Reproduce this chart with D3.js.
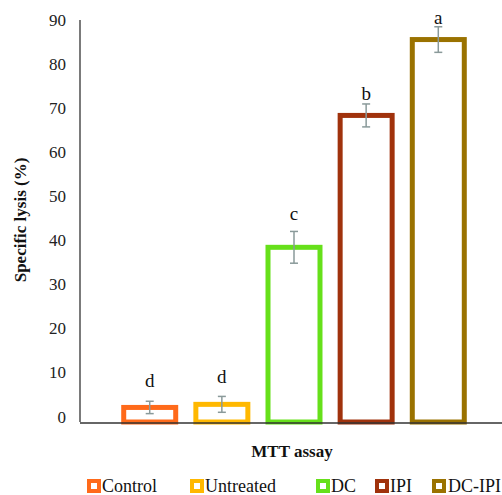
<!DOCTYPE html>
<html><head><meta charset="utf-8">
<script src="https://cdn.jsdelivr.net/npm/d3@7"></script>
<style>body{margin:0;background:#fff}</style>
</head><body>
<svg id="c" width="502" height="495"></svg>
<script>
const categories = ["Control", "Untreated", "DC", "IPI", "DC-IPI"];
const values = [3.3, 4.0, 39.6, 69.5, 86.7];
const errors = [1.4, 1.8, 3.6, 2.6, 2.9];
const letters = ["d", "d", "c", "b", "a"];
const letterY = [7.9, 8.8, 45.8, 73.0, 90.2];
const colors = ["#FF6A1A", "#FFB800", "#66E01A", "#A0320C", "#9A7200"];
const yTicks = [0, 10, 20, 30, 40, 50, 60, 70, 80, 90];

const svg = d3.select("#c");
const serif = "'Liberation Serif', serif";

const y = d3.scaleLinear().domain([0, 90]).range([422, 25]);
const x = d3.scaleBand().domain(categories).range([114, 474]).paddingInner(0.21).paddingOuter(0.1);

// y axis
const yAxis = d3.axisLeft(y).tickValues(yTicks).tickSize(0).tickPadding(14);
const gy = svg.append("g").attr("transform", "translate(80,0)").call(yAxis);
gy.select(".domain").attr("stroke", "#333").attr("stroke-width", 1.3).attr("d", "M0,20V422");
gy.selectAll("text").attr("font-family", serif).attr("font-size", 17).attr("fill", "#222").attr("dy", "0.0em");

// bars
const g = svg.append("g");
categories.forEach((c, i) => {
  g.append("rect")
    .attr("x", x(c) + 2.5).attr("width", x.bandwidth() - 5)
    .attr("y", y(values[i])).attr("height", y(0) - y(values[i]))
    .attr("fill", "#fff").attr("stroke", colors[i]).attr("stroke-width", 5);
});

// x axis line
svg.append("line").attr("x1", 80).attr("x2", 502).attr("y1", 423).attr("y2", 423)
  .attr("stroke", "#333").attr("stroke-width", 1.5);

// error bars
categories.forEach((c, i) => {
  const cx = x(c) + x.bandwidth() / 2;
  const t = y(values[i] + errors[i]), b = y(values[i] - errors[i]);
  const eg = svg.append("g").attr("stroke", "#8A9A9A").attr("stroke-width", 1.5);
  eg.append("line").attr("x1", cx).attr("x2", cx).attr("y1", t).attr("y2", b);
  eg.append("line").attr("x1", cx - 4).attr("x2", cx + 4).attr("y1", t).attr("y2", t);
  eg.append("line").attr("x1", cx - 4).attr("x2", cx + 4).attr("y1", b).attr("y2", b);
  svg.append("text").attr("x", cx).attr("y", y(letterY[i])).attr("text-anchor", "middle")
    .attr("font-family", serif).attr("font-size", 19).attr("fill", "#111").text(letters[i]);
});

// axis titles
svg.append("text").attr("x", 292).attr("y", 457).attr("text-anchor", "middle")
  .attr("font-family", serif).attr("font-weight", "bold").attr("font-size", 17).attr("fill", "#111").text("MTT assay");
svg.append("text").attr("transform", "translate(26,220) rotate(-90)").attr("text-anchor", "middle")
  .attr("font-family", serif).attr("font-weight", "bold").attr("font-size", 17).attr("fill", "#111").text("Specific lysis (%)");

// legend
const legX = [87, 190, 316, 375, 432];
categories.forEach((c, i) => {
  const lg = svg.append("g").attr("transform", `translate(${legX[i]},479)`);
  lg.append("rect").attr("x", 2).attr("y", 2).attr("width", 10).attr("height", 10)
    .attr("fill", "#fff").attr("stroke", colors[i]).attr("stroke-width", 4);
  lg.append("text").attr("x", i === 4 ? 16 : 15).attr("y", 12.5).attr("font-family", serif)
    .attr("font-size", 18).attr("fill", "#111").text(c);
});
</script>
</body></html>
